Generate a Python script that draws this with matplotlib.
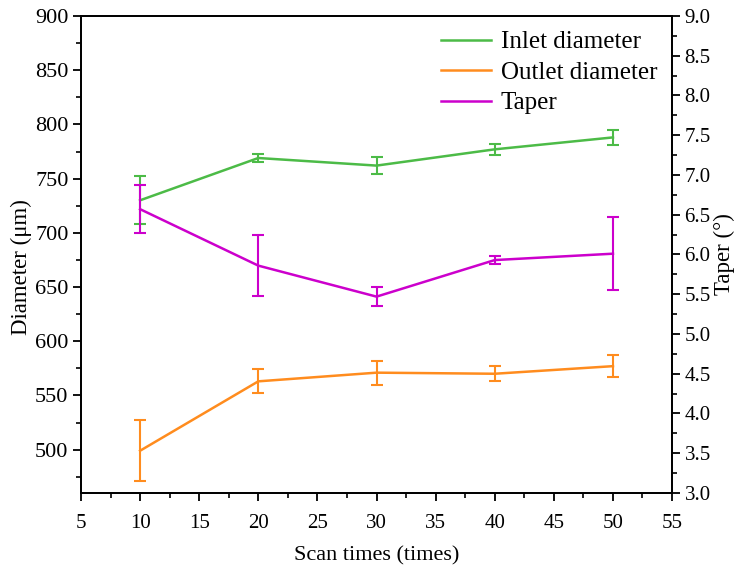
import matplotlib
matplotlib.use("Agg")
import matplotlib.pyplot as plt
from matplotlib.ticker import MultipleLocator, AutoMinorLocator

plt.rcParams['font.family'] = ['Liberation Serif', 'DejaVu Serif']

scan_times = [10, 20, 30, 40, 50]
inlet = [730, 769, 762, 777, 788]
inlet_err = [22, 4, 8, 5, 7]
outlet = [499, 563, 571, 570, 577]
outlet_err = [28, 11, 11, 7, 10]
taper = [6.57, 5.86, 5.47, 5.93, 6.01]
taper_err = [0.30, 0.38, 0.12, 0.05, 0.46]

c_in = '#4CBB47'
c_out = '#FF8C1E'
c_tap = '#CC00CC'

fig = plt.figure(figsize=(7.39, 5.71), dpi=100)
ax = fig.add_axes([0.1096, 0.1366, 0.7998, 0.8354])
ax2 = ax.twinx()

kw = dict(capsize=4, elinewidth=1.5, capthick=1.5, linewidth=1.8)
ax.errorbar(scan_times, inlet, yerr=inlet_err, color=c_in, label='Inlet diameter', **kw)
ax.errorbar(scan_times, outlet, yerr=outlet_err, color=c_out, label='Outlet diameter', **kw)
ax2.errorbar(scan_times, taper, yerr=taper_err, color=c_tap, label='Taper', **kw)

ax.set_xlim(5, 55)
ax.set_ylim(460, 900)
ax2.set_ylim(3.0, 9.0)
ax.xaxis.set_major_locator(MultipleLocator(5))
ax.xaxis.set_minor_locator(AutoMinorLocator(2))
ax.yaxis.set_major_locator(MultipleLocator(50))
ax.yaxis.set_minor_locator(AutoMinorLocator(2))
ax2.yaxis.set_major_locator(MultipleLocator(0.5))
ax2.yaxis.set_minor_locator(AutoMinorLocator(2))
ax2.yaxis.set_major_formatter(plt.FormatStrFormatter('%.1f'))

for a in (ax, ax2):
    a.tick_params(which='major', direction='out', length=6, width=1.3, labelsize=15, pad=5)
    a.tick_params(which='minor', direction='out', length=3.5, width=1.2)
    for s in a.spines.values():
        s.set_linewidth(1.3)
ax.tick_params(axis='y', which='both', right=False)
ax.tick_params(axis='y', which='major', labelsize=16, pad=3)
ax.tick_params(axis='x', which='both', top=False)
ax.tick_params(axis='x', which='major', pad=9)
ax2.tick_params(axis='y', which='major', pad=3)

ax.set_xlabel('Scan times (times)', fontsize=16, labelpad=10)
ax.set_ylabel('Diameter (μm)', fontsize=16.5)
ax.yaxis.set_label_coords(-0.083, 0.474)
ax2.set_ylabel('Taper (°)', fontsize=16.5, labelpad=2)

handles = [plt.Line2D([], [], color=c, lw=1.8) for c in (c_in, c_out, c_tap)]
ax.legend(handles, ['Inlet diameter', 'Outlet diameter', 'Taper'], loc='upper right',
          frameon=False, fontsize=18, handlelength=2.0, borderaxespad=0.2,
          labelspacing=0.32, handletextpad=0.4)

fig.savefig('out.png', dpi=100)
